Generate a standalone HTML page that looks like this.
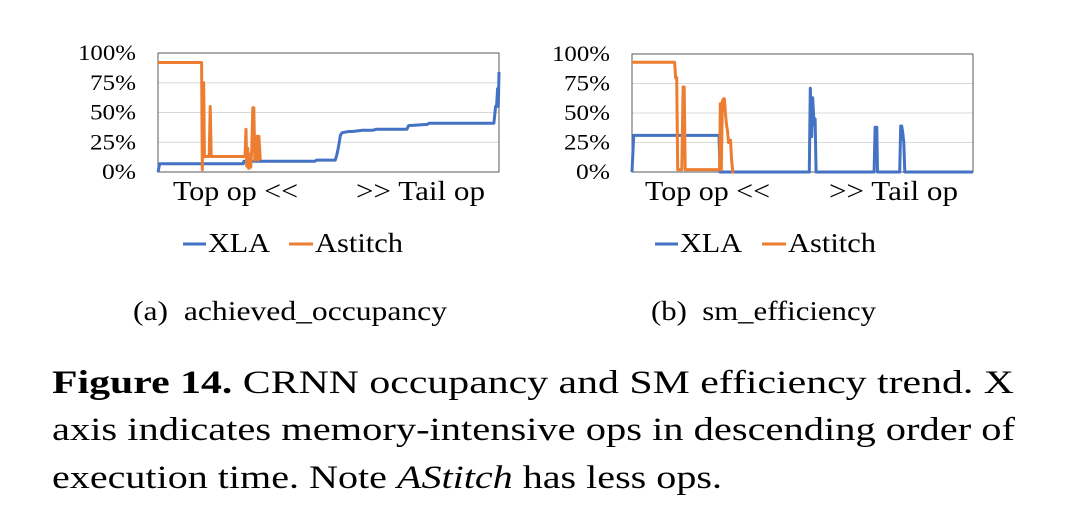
<!DOCTYPE html>
<html><head><meta charset="utf-8"><style>
html,body{margin:0;padding:0;background:#fff;}
svg{display:block;font-family:"Liberation Serif",serif;}
</style></head><body>
<svg id="fig" width="1077" height="514" viewBox="0 0 1077 514" xmlns="http://www.w3.org/2000/svg">
<g id="chartA"></g>
<g id="chartB"></g>
<text x="173" y="200" font-size="27" textLength="125" lengthAdjust="spacingAndGlyphs">Top op &lt;&lt;</text>
<text x="356" y="200" font-size="27" textLength="129" lengthAdjust="spacingAndGlyphs">&gt;&gt; Tail op</text>
<text x="645" y="200" font-size="27" textLength="125" lengthAdjust="spacingAndGlyphs">Top op &lt;&lt;</text>
<text x="829" y="200" font-size="27" textLength="129" lengthAdjust="spacingAndGlyphs">&gt;&gt; Tail op</text>
<g>
<line x1="183" y1="244" x2="206" y2="244" stroke="#4472c4" stroke-width="3"/>
<text x="208" y="252" font-size="27" textLength="62" lengthAdjust="spacingAndGlyphs">XLA</text>
<line x1="289" y1="244" x2="313" y2="244" stroke="#ed7d31" stroke-width="3"/>
<text x="315" y="252" font-size="27" textLength="88" lengthAdjust="spacingAndGlyphs">Astitch</text>
</g>
<g>
<line x1="655" y1="244" x2="678" y2="244" stroke="#4472c4" stroke-width="3"/>
<text x="680" y="252" font-size="27" textLength="62" lengthAdjust="spacingAndGlyphs">XLA</text>
<line x1="762" y1="244" x2="786" y2="244" stroke="#ed7d31" stroke-width="3"/>
<text x="788" y="252" font-size="27" textLength="88" lengthAdjust="spacingAndGlyphs">Astitch</text>
</g>
<text x="133" y="320" font-size="27" textLength="314" lengthAdjust="spacingAndGlyphs" xml:space="preserve">(a)  achieved_occupancy</text>
<text x="651" y="320" font-size="27" textLength="225" lengthAdjust="spacingAndGlyphs" xml:space="preserve">(b)  sm_efficiency</text>
<g font-size="33">
<text x="52" y="393" textLength="962" lengthAdjust="spacingAndGlyphs"><tspan font-weight="bold">Figure 14.</tspan> CRNN occupancy and SM efficiency trend. X</text>
<text x="52" y="440" textLength="963" lengthAdjust="spacingAndGlyphs">axis indicates memory-intensive ops in descending order of</text>
<text x="52" y="488" textLength="670" lengthAdjust="spacingAndGlyphs">execution time. Note <tspan font-style="italic">AStitch</tspan> has less ops.</text>
</g>
</svg>
<script>
const yTicks = ["0%","25%","50%","75%","100%"];
const tickValues = [0,25,50,75,100];
// op rank positions (0..1000) and values (%)
const aXlaX = [0,5,10,250,252,460,465,520,525,530,535,540,560,570,600,630,640,730,735,790,795,985,990,993,996,998,1000];
const aXlaV = [0,7,7,7,9,9,10,10,15,22,31,33,34,34,35,35,36,36,39,40,41,41,55,56,70,55,84];
const aAstX = [0,128,130,132,134,136,140,150,153,156,160,255,258,260,263,266,269,272,275,278,281,284,287,290,293,296,300];
const aAstV = [92,92,2,75,75,13,13,13,55,13,13,13,36,5,20,3,15,4,20,54,54,10,20,30,10,30,10];
const bXlaX = [0,5,10,255,258,520,523,527,530,534,537,540,545,548,710,713,718,720,785,788,791,794,797,800,1000];
const bXlaV = [0,31,31,31,0,0,71,30,63,40,45,0,0,0,0,38,38,0,0,39,39,33,25,0,0];
const bAstX = [0,125,128,131,134,140,146,150,153,156,257,259,262,265,268,271,274,277,280,283,286,289,292,296,300];
const bAstV = [93,93,80,80,2,2,2,72,72,2,2,58,2,60,62,62,50,40,35,25,27,27,10,0,0];

function drawChart(gid, L, R, T, B, series){
  const g = document.getElementById(gid);
  const NS = "http://www.w3.org/2000/svg";
  const sx = v => L + (R - L) * v / 1000;
  const sy = v => B - (B - T) * v / 100;
  tickValues.forEach((tv, i) => {
    if (tv > 0 && tv < 100) {
      const gl = document.createElementNS(NS, "line");
      
      
      gl.setAttribute("x1", L); gl.setAttribute("x2", R);
      gl.setAttribute("y1", sy(tv)); gl.setAttribute("y2", sy(tv));
      gl.setAttribute("stroke", "#d9d9d9"); gl.setAttribute("stroke-width", "1");
      g.appendChild(gl);
    }
    const t = document.createElementNS(NS, "text");
    
    
    t.setAttribute("x", L - 22); t.setAttribute("y", sy(tv) + 7);
    t.setAttribute("text-anchor", "end"); t.setAttribute("font-size", "22");
    t.setAttribute("textLength", String(yTicks[i].length * 12 + 10));
    t.setAttribute("lengthAdjust", "spacingAndGlyphs");
    t.textContent = yTicks[i];
    g.appendChild(t);
  });
  const frame = document.createElementNS(NS, "rect");
  
  
  frame.setAttribute("x", L); frame.setAttribute("y", T);
  frame.setAttribute("width", R - L); frame.setAttribute("height", B - T);
  frame.setAttribute("fill", "none"); frame.setAttribute("stroke", "#595959"); frame.setAttribute("stroke-width", "1");
  g.appendChild(frame);
  series.forEach(s => {
    const p = document.createElementNS(NS, "polyline");
    
    
    p.setAttribute("points", s.xs.map((x, i) => sx(x).toFixed(1) + "," + sy(s.vs[i]).toFixed(1)).join(" "));
    p.setAttribute("fill", "none"); p.setAttribute("stroke", s.color);
    p.setAttribute("stroke-width", "3"); p.setAttribute("stroke-linejoin", "round");
    g.appendChild(p);
  });
}
drawChart("chartA", 158, 499, 53, 172, [
  {name: "xla-line", xs: aXlaX, vs: aXlaV, color: "#4472c4"},
  {name: "astitch-line", xs: aAstX, vs: aAstV, color: "#ed7d31"}
]);
drawChart("chartB", 632, 973, 54, 172, [
  {name: "xla-line", xs: bXlaX, vs: bXlaV, color: "#4472c4"},
  {name: "astitch-line", xs: bAstX, vs: bAstV, color: "#ed7d31"}
]);
</script>
</body></html>
